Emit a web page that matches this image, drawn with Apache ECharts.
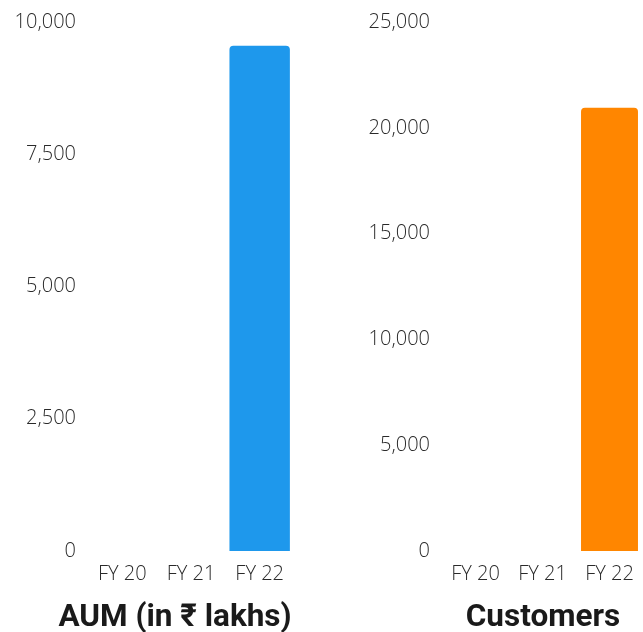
<!DOCTYPE html>
<html>
<head>
<meta charset="utf-8">
<script src="https://cdn.jsdelivr.net/npm/echarts@6/dist/echarts.min.js"></script>
<style>
  html, body { margin: 0; padding: 0; background: #fff; }
  #chart { width: 643px; height: 632px; }
</style>
</head>
<body>
<div id="chart"></div>
<script>
// Financial years on both panels
const years = ['FY 20', 'FY 21', 'FY 22'];

// Assets under management (₹ lakhs)
const aumValues = [0, 0, 9550];
const aumTicks = { min: 0, max: 10000, interval: 2500 };

// Customer count
const customerValues = [0, 0, 20950];
const customerTicks = { min: 0, max: 25000, interval: 5000 };

const panelTitles = ['AUM (in ₹ lakhs)', 'Customers'];

const tickFont = {
  fontFamily: '"Open Sans", "Noto Sans", sans-serif',
  fontWeight: 300,
  fontSize: 20,
  color: '#2a2a2a'
};

function valueAxis(gridIndex, t) {
  return {
    type: 'value',
    gridIndex,
    min: t.min,
    max: t.max,
    interval: t.interval,
    axisLine: { show: false },
    axisTick: { show: false },
    splitLine: { show: false },
    axisLabel: Object.assign({ margin: 12, formatter: v => v.toLocaleString('en-US') }, tickFont)
  };
}

function categoryAxis(gridIndex) {
  return {
    type: 'category',
    gridIndex,
    data: years,
    axisLine: { show: false },
    axisTick: { show: false },
    axisLabel: Object.assign({ margin: 13 }, tickFont)
  };
}

const titleStyle = {
  fontFamily: 'Roboto, "Noto Sans", sans-serif',
  fontWeight: 'bold',
  fontSize: 31.5,
  color: '#1a1a1a'
};

const chart = echarts.init(document.getElementById('chart'), null, { renderer: 'canvas' });

chart.setOption({
  animation: false,
  title: [
    { text: panelTitles[0], left: 170, top: 597, textAlign: 'center', textStyle: titleStyle },
    { text: panelTitles[1], left: 538, top: 597, textAlign: 'center', textStyle: titleStyle }
  ],
  grid: [
    { left: 88, right: 349, top: 22, bottom: 81 },
    { left: 442, right: 0, top: 22, bottom: 81 }
  ],
  xAxis: [categoryAxis(0), categoryAxis(1)],
  yAxis: [valueAxis(0, aumTicks), valueAxis(1, customerTicks)],
  series: [
    {
      type: 'bar', xAxisIndex: 0, yAxisIndex: 0,
      data: aumValues,
      barCategoryGap: '12%',
      itemStyle: { color: '#1e98ec', borderRadius: [4, 4, 0, 0] }
    },
    {
      type: 'bar', xAxisIndex: 1, yAxisIndex: 1,
      data: customerValues,
      barCategoryGap: '15%',
      itemStyle: { color: '#ff8600', borderRadius: [4, 4, 0, 0] }
    }
  ]
});
</script>
</body>
</html>
